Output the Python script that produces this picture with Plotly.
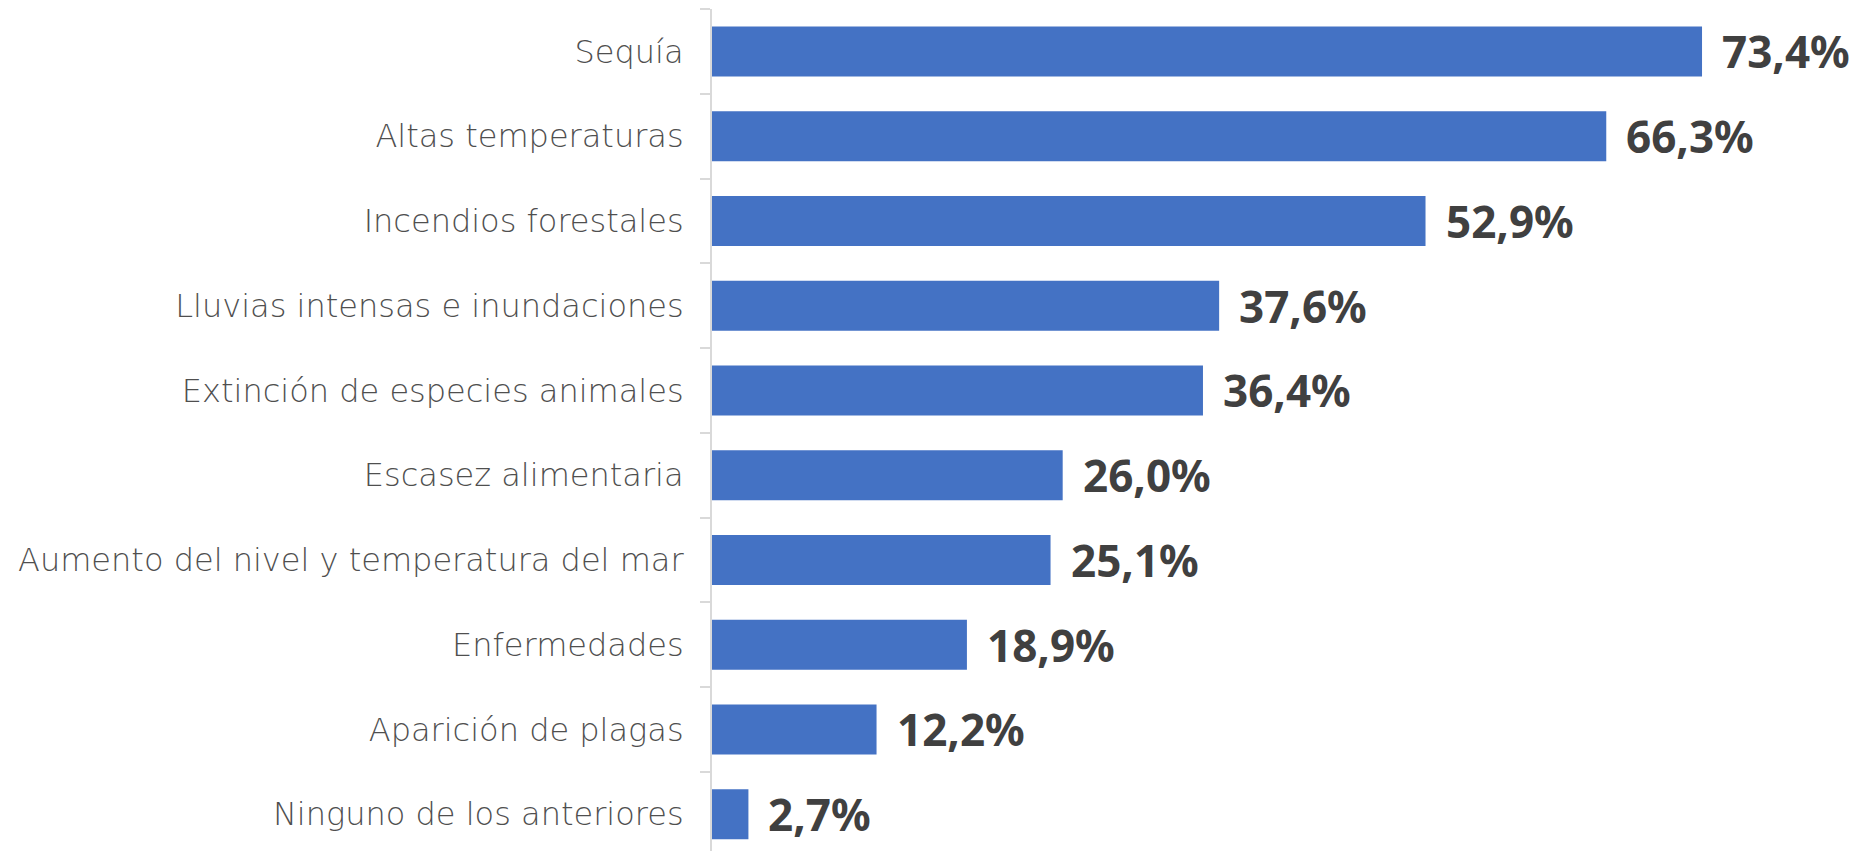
import plotly.graph_objects as go

categories = [
    "Sequía",
    "Altas temperaturas",
    "Incendios forestales",
    "Lluvias intensas e inundaciones",
    "Extinción de especies animales",
    "Escasez alimentaria",
    "Aumento del nivel y temperatura del mar",
    "Enfermedades",
    "Aparición de plagas",
    "Ninguno de los anteriores",
]
values = [73.4, 66.3, 52.9, 37.6, 36.4, 26.0, 25.1, 18.9, 12.2, 2.7]
value_labels = [f"{v:.1f}%".replace(".", ",") for v in values]

fig = go.Figure()
fig.add_trace(go.Bar(
    y=categories,
    x=values,
    orientation="h",
    marker=dict(color="#4472C4", line=dict(width=0)),
    width=0.59,
    hoverinfo="skip",
))

for c, v, t in zip(categories, values, value_labels):
    fig.add_annotation(
        x=v, y=c, text=t, showarrow=False,
        xanchor="left", yanchor="middle", xshift=18,
        font=dict(family="Noto Sans", size=44, color="#404040", weight=700),
    )

fig.update_layout(
    width=1863, height=851,
    margin=dict(l=704, r=26, t=1, b=8, autoexpand=False),
    plot_bgcolor="white", paper_bgcolor="white",
    showlegend=False,
)
fig.update_xaxes(range=[0, 84], visible=False, fixedrange=True)
fig.update_yaxes(
    type="category",
    categoryorder="array", categoryarray=categories,
    range=[9.434, -0.5],
    showline=True, linecolor="#D9D9D9", linewidth=2,
    ticks="outside", ticklen=10, tickcolor="#D9D9D9", tickwidth=2,
    tickson="boundaries",
    showgrid=False,
    ticklabelstandoff=20,
    tickfont=dict(family="DejaVu Sans", size=32, color="#4F4F4F", weight=200),
    automargin=False,
)

fig.write_html("out.html")
